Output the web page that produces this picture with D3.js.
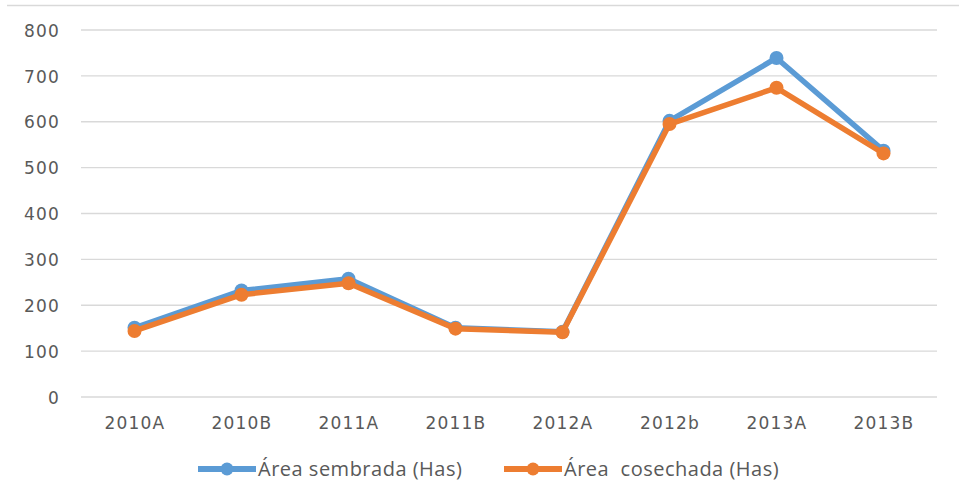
<!DOCTYPE html>
<html>
<head>
<meta charset="utf-8">
<script src="https://cdn.jsdelivr.net/npm/d3@7"></script>
<style>
  body { margin: 0; background: #fff; }
  text { font-family: "DejaVu Sans", Verdana, sans-serif; fill: #595959; }
</style>
</head>
<body>
<div id="chart"></div>
<script>
const W = 959, H = 497;

const categories = ["2010A", "2010B", "2011A", "2011B", "2012A", "2012b", "2013A", "2013B"];
const sembrada = [151, 232, 258, 151, 142, 602, 739, 537];
const cosechada = [144, 223, 248, 149, 141, 595, 674, 531];
const yTicks = [0, 100, 200, 300, 400, 500, 600, 700, 800];
const seriesNames = ["Área sembrada (Has)", "Área  cosechada (Has)"];
const seriesColors = ["#5B9BD5", "#ED7D31"];

const margin = { left: 81, right: 22, top: 30, bottom: 100 };

const svg = d3.select("#chart").append("svg")
    .attr("width", W)
    .attr("height", H);

// light border line along the top of the chart area
svg.append("line")
    .attr("x1", 7).attr("x2", W)
    .attr("y1", 5.5).attr("y2", 5.5)
    .attr("stroke", "#d9d9d9").attr("stroke-width", 1.5);

const x = d3.scalePoint()
    .domain(categories)
    .range([margin.left, W - margin.right])
    .padding(0.5);

const y = d3.scaleLinear()
    .domain([0, 800])
    .range([H - margin.bottom, margin.top]);

// gridlines
svg.append("g").attr("id", "grid")
    .selectAll("line")
    .data(yTicks)
    .enter()
    .append("line")
    .attr("x1", margin.left).attr("x2", W - margin.right)
    .attr("y1", d => y(d)).attr("y2", d => y(d))
    .attr("stroke", "#d9d9d9").attr("stroke-width", 1.3);

// y axis labels
const yAxis = svg.append("g")
    .attr("transform", "translate(" + (margin.left - 21) + ",0)")
    .call(d3.axisLeft(y).tickValues(yTicks).tickSize(0).tickPadding(0));
yAxis.select(".domain").remove();
yAxis.selectAll("text")
    .style("font-size", "17px")
    .style("letter-spacing", "1.2px")
    .attr("dy", "0.36em");

// x axis labels
const xAxis = svg.append("g")
    .attr("transform", "translate(0," + (H - margin.bottom) + ")")
    .call(d3.axisBottom(x).tickSize(0).tickPadding(20));
xAxis.select(".domain").remove();
xAxis.selectAll("text")
    .style("font-size", "17px")
    .style("letter-spacing", "1.2px");

const series = [sembrada, cosechada];

const lineGen = d3.line()
    .x((d, i) => x(categories[i]))
    .y(d => y(d));

series.forEach((vals, s) => {
    const g = svg.append("g").attr("class", "series");
    g.append("path")
        .datum(vals)
        .attr("d", lineGen)
        .attr("fill", "none")
        .attr("stroke", seriesColors[s])
        .attr("stroke-width", 5.5)
        .attr("stroke-linejoin", "round");
    g.selectAll("circle")
        .data(vals)
        .enter()
        .append("circle")
        .attr("cx", (d, i) => x(categories[i]))
        .attr("cy", d => y(d))
        .attr("r", 7)
        .attr("fill", seriesColors[s]);
});

// legend
const legendItems = [
    { x: 198, name: seriesNames[0], color: seriesColors[0] },
    { x: 504, name: seriesNames[1], color: seriesColors[1] }
];
const legend = svg.append("g").attr("transform", "translate(0,469)");
legendItems.forEach(item => {
    legend.append("line")
        .attr("x1", item.x).attr("x2", item.x + 58)
        .attr("y1", 0).attr("y2", 0)
        .attr("stroke", item.color).attr("stroke-width", 6);
    legend.append("circle")
        .attr("cx", item.x + 29).attr("cy", 0).attr("r", 6.5)
        .attr("fill", item.color);
    legend.append("text")
        .attr("x", item.x + 60).attr("y", 0).attr("dy", "0.36em")
        .style("font-family", "'Open Sans', sans-serif")
        .style("font-size", "20px")
        .style("letter-spacing", "0.5px")
        .style("white-space", "pre")
        .text(item.name);
});
</script>
</body>
</html>
